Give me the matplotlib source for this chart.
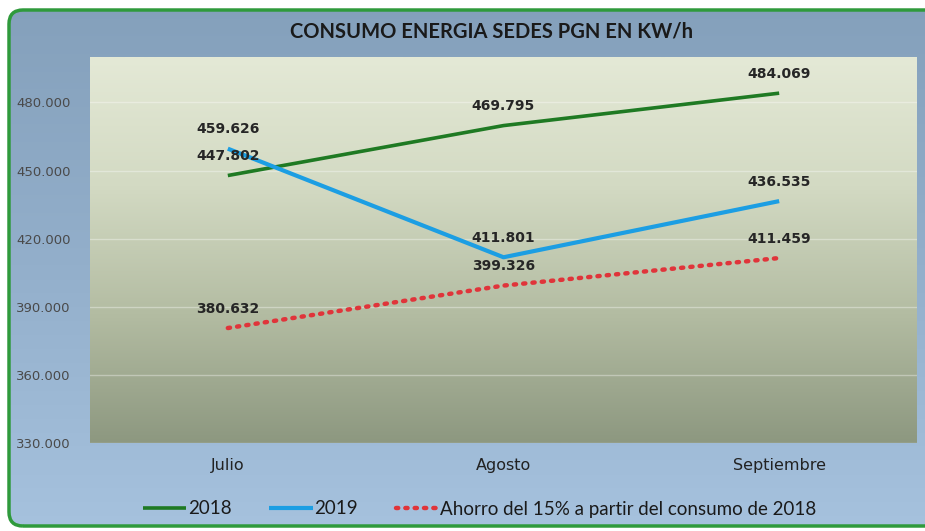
import numpy as np
import matplotlib
matplotlib.use("Agg")
import matplotlib.pyplot as plt
from matplotlib.patches import FancyBboxPatch
from matplotlib.colors import LinearSegmentedColormap
from matplotlib.ticker import FuncFormatter, MultipleLocator

categories = ["Julio", "Agosto", "Septiembre"]
s2018 = [447802, 469795, 484069]
s2019 = [459626, 411801, 436535]
ahorro = [380632, 399326, 411459]
series_names = ["2018", "2019", "Ahorro del 15% a partir del consumo de 2018"]
title = "CONSUMO ENERGIA SEDES PGN EN KW/h"

W, H = 925, 531
fig = plt.figure(figsize=(W / 100, H / 100), dpi=100)
fig.patch.set_facecolor("white")

# background with rounded green border
bg = fig.add_axes([0, 0, 1, 1], zorder=-5)
bg.set_xlim(0, W)
bg.set_ylim(0, H)
bg.axis("off")
box = FancyBboxPatch((9, 5), 940, 516, boxstyle="round,pad=0,rounding_size=14",
                     facecolor="none", edgecolor="#2f9a3c", linewidth=2.5, zorder=3)
bg.add_patch(box)
grad_cmap = LinearSegmentedColormap.from_list("bgb", ["#a6c2de", "#93afcb", "#84a0bb"])
grad = np.linspace(0, 1, 256).reshape(-1, 1)
im = bg.imshow(grad, cmap=grad_cmap, extent=[0, W, 0, H], origin="lower", aspect="auto", zorder=1)
im.set_clip_path(box)

# plot area
left, right = 90 / W, 917 / W
bottom, top = 1 - 443 / H, 1 - 57 / H
ax = fig.add_axes([left, bottom, right - left, top - bottom])
pa_cmap = LinearSegmentedColormap.from_list("pa", ["#8d9880", "#b3bca2", "#d3dac3", "#e4e9d6"])
ax.imshow(grad, cmap=pa_cmap, extent=[0, 1, 0, 1], origin="lower", aspect="auto",
          transform=ax.transAxes, zorder=0)

x = np.arange(len(categories))
ax.plot(x, s2018, color="#1f7a23", lw=2.6, zorder=4, label=series_names[0], solid_capstyle="butt")
ax.plot(x, s2019, color="#1c9ee3", lw=3.0, zorder=4, label=series_names[1], solid_capstyle="butt")
ax.plot(x, ahorro, color="#e0343a", lw=3.2, zorder=4, linestyle=(0, (0.5, 1.6)),
        dash_capstyle="round", label=series_names[2])

fmt = lambda v: f"{v:,.0f}".replace(",", ".")
for ser in (s2018, s2019, ahorro):
    for xi, v in zip(x, ser):
        ax.annotate(fmt(v), (xi, v), xytext=(0, 9), textcoords="offset points",
                    ha="center", va="bottom", fontsize=10, fontweight="bold",
                    color="#262626", zorder=6)

ax.set_xlim(-0.5, 2.5)
ax.set_ylim(330000, 500000)
ax.yaxis.set_major_locator(MultipleLocator(30000))
ax.yaxis.set_major_formatter(FuncFormatter(lambda v, p: fmt(v)))
ax.set_xticks(x)
ax.set_xticklabels(categories)
ax.tick_params(axis="y", length=0, pad=14, labelsize=9.5, labelcolor="#4a4a4a")
ax.tick_params(axis="x", length=0, pad=11, labelsize=11.5, labelcolor="#222222")
ax.grid(axis="y", color="white", alpha=0.35, lw=1)
ax.set_axisbelow(True)
for s in ax.spines.values():
    s.set_visible(False)

fig.text(491 / W, 1 - 32 / H, title, ha="center", va="center", fontsize=14.5,
         fontweight="bold", family="Lato", color="#1a1a1a")

leg = fig.legend(loc="center", bbox_to_anchor=(480 / W, 1 - 509 / H), ncol=3, frameon=False,
                 prop={"family": "Lato", "size": 13.5}, handlelength=2.3, columnspacing=2.0,
                 handletextpad=0.1)
for t in leg.get_texts():
    t.set_color("#1a1a1a")

fig.savefig("out.png", dpi=100)
